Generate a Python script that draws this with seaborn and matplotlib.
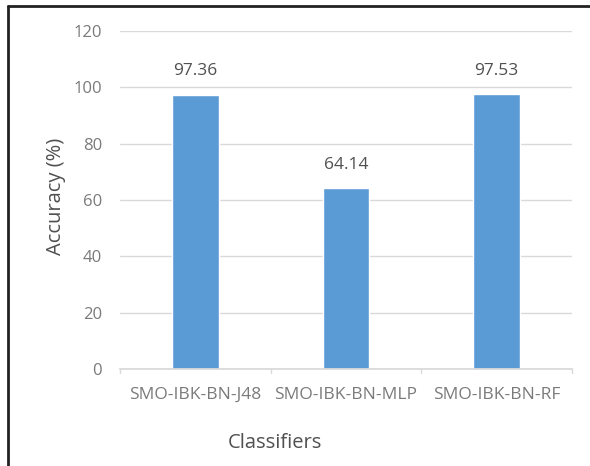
import matplotlib
matplotlib.use("Agg")
import matplotlib.pyplot as plt
import seaborn as sns
import pandas as pd
from matplotlib.lines import Line2D

classifiers = ["SMO-IBK-BN-J48", "SMO-IBK-BN-MLP", "SMO-IBK-BN-RF"]
accuracy = [97.36, 64.14, 97.53]
yticks = [0, 20, 40, 60, 80, 100, 120]

sns.set_theme(style="white")
plt.rcParams['font.family'] = ['Open Sans', 'DejaVu Sans']

df = pd.DataFrame({"Classifier": classifiers, "Accuracy": accuracy})

fig = plt.figure(figsize=(5.9, 4.66), dpi=100)
ax = fig.add_axes([120/590, 1-369/466, (572-120)/590, (369-31)/466])

sns.barplot(data=df, x="Classifier", y="Accuracy", color="#5B9BD5",
            saturation=1, width=0.31, ax=ax)

ax.set_ylim(0, 120)
ax.set_yticks(yticks)
ax.set_xlim(-0.5, 2.5)
ax.yaxis.grid(True, color="#D9D9D9", linewidth=1)
ax.set_axisbelow(True)
for s in ["top", "right", "left"]:
    ax.spines[s].set_visible(False)
ax.spines["bottom"].set_color("#D9D9D9")
ax.tick_params(axis="y", length=0, pad=13, labelsize=12, labelcolor="#7A7A7A")
ax.tick_params(axis="x", length=0, pad=13, labelsize=12.5, labelcolor="#7A7A7A")
# category divider ticks
for xpos in [-0.5, 0.5, 1.5, 2.5]:
    ax.plot([xpos, xpos], [0, -1.5], color="#D9D9D9", lw=1, clip_on=False)

for i, v in enumerate(accuracy):
    ax.text(i, v + 5.5, f"{v:.2f}", ha="center", va="bottom",
            fontsize=12.5, color="#505050")

ax.set_xlabel("Classifiers", fontsize=14.5, color="#505050")
ax.set_ylabel("Accuracy (%)", fontsize=14.5, color="#505050")
ax.xaxis.set_label_coords((275-120)/(572-120), -(433-369)/(369-31))
ax.yaxis.set_label_coords(-(120-66)/(572-120), 0.51)

# frame lines (top and left) of the figure
fig.add_artist(Line2D([8/590, 590/590], [1-6/466, 1-6/466], color="#222222", lw=2))
fig.add_artist(Line2D([8/590, 8/590], [0, 1-6/466], color="#222222", lw=2))

fig.savefig("out.png", dpi=100)
